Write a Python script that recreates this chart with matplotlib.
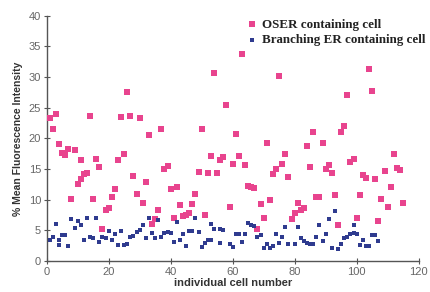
import matplotlib
matplotlib.use("Agg")
from matplotlib import pyplot as plt

# OSER containing cells (cell number, % mean fluorescence intensity)
oser_x = [1, 2, 3, 4, 5, 6, 7, 8, 9, 10, 11, 11, 12, 13, 14, 15, 16, 17, 18, 19,
          20, 21, 22, 23, 24, 25, 26, 27, 28, 29, 30, 31, 32, 33, 34, 35, 36, 37, 38, 39,
          40, 41, 42, 43, 44, 45, 46, 47, 48, 49, 50, 51, 52, 53, 54, 55, 56, 57, 58, 59,
          60, 61, 62, 63, 64, 65, 66, 67, 68, 69, 70, 71, 72, 73, 74, 75, 76, 77, 78, 79,
          80, 81, 82, 83, 84, 85, 86, 87, 88, 89, 90, 91, 92, 93, 94, 95, 96, 97, 98, 99,
          100, 101, 102, 103, 104, 105, 106, 107, 108, 109, 110, 111, 112, 113, 114, 115]
oser_y = [23.4, 21.6, 23.9, 19.1, 17.7, 17.3, 18.3, 10.2, 18.1, 12.6, 13.4, 16.5, 14.2, 14.3, 23.7, 10.1, 16.6, 15.4, 5.3, 8.3,
          8.6, 10.4, 11.7, 16.4, 23.5, 17.5, 27.5, 23.6, 13.8, 11.0, 23.3, 9.5, 12.9, 20.5, 6.0, 6.8, 8.3, 21.6, 15.0, 15.5,
          11.7, 7.0, 12.1, 9.1, 7.3, 7.5, 7.8, 9.3, 11.0, 14.5, 21.5, 7.5, 14.3, 17.1, 30.6, 14.3, 16.5, 17.0, 25.5, 8.8,
          15.9, 20.8, 17.1, 33.8, 15.7, 12.2, 12.0, 11.9, 5.2, 9.3, 7.1, 19.2, 9.9, 14.2, 15.0, 30.1, 15.8, 17.5, 13.7, 6.8,
          7.8, 9.4, 8.3, 8.6, 18.8, 15.3, 21.0, 10.5, 10.4, 19.3, 15.0, 15.7, 14.4, 10.7, 5.8, 21.1, 22.0, 27.1, 16.1, 16.6,
          7.1, 10.8, 14.0, 13.6, 31.3, 27.8, 13.3, 6.6, 10.1, 14.7, 8.8, 12.1, 17.5, 15.2, 14.9, 9.4]

# Branching ER containing cells
ber_x = [1, 2, 3, 4, 4, 5, 6, 7, 8, 9, 10, 11, 12, 13, 14, 15, 16, 17, 18, 19,
         20, 21, 22, 23, 24, 25, 26, 27, 28, 29, 30, 31, 32, 33, 34, 35, 36, 37, 38, 39,
         40, 41, 42, 43, 44, 45, 46, 47, 48, 49, 50, 51, 52, 53, 53, 54, 56, 56, 57, 59,
         60, 61, 62, 63, 64, 65, 66, 67, 68, 69, 70, 71, 72, 73, 74, 75, 76, 77, 78, 80,
         81, 82, 83, 84, 85, 86, 87, 88, 89, 90, 91, 92, 93, 94, 95, 96, 97, 98, 99, 99,
         100, 101, 102, 103, 104, 105, 106, 107]
ber_y = [3.5, 4.0, 6.1, 3.4, 2.6, 4.2, 4.2, 2.4, 6.9, 5.4, 6.6, 5.9, 3.4, 7.1, 4.0, 3.7, 7.1, 3.1, 4.0, 3.7,
         4.9, 3.4, 4.4, 2.6, 4.9, 2.6, 2.8, 3.9, 4.1, 4.8, 5.0, 5.9, 3.8, 7.0, 4.5, 3.8, 6.7, 3.9, 4.6, 4.8,
         4.5, 3.1, 6.4, 3.4, 4.4, 2.5, 4.9, 4.9, 7.0, 4.8, 2.3, 2.9, 3.4, 3.5, 6.1, 5.3, 5.3, 2.9, 5.0, 2.8,
         2.3, 4.4, 4.4, 3.1, 4.4, 6.2, 5.9, 5.7, 4.0, 4.3, 2.2, 2.8, 2.2, 2.4, 4.4, 2.9, 4.0, 5.5, 2.7, 2.7,
         5.5, 3.8, 3.3, 2.9, 2.8, 2.8, 4.0, 5.8, 3.3, 4.4, 6.8, 2.2, 8.2, 2.0, 2.7, 3.8, 4.0, 4.4, 4.5, 5.8,
         4.4, 2.6, 3.5, 2.4, 2.4, 4.3, 4.3, 3.3]

x_ticks = [0, 20, 40, 60, 80, 100, 120]
y_ticks = [0, 5, 10, 15, 20, 25, 30, 35, 40]

fig = plt.figure(figsize=(4.3, 2.92), dpi=100)
ax = fig.add_axes([0.1086, 0.106, 0.865, 0.84])

ax.scatter(oser_x, oser_y, marker="s", s=23, color="#e8448e", linewidths=0,
           label="OSER containing cell", zorder=3)
ax.scatter(ber_x, ber_y, marker="s", s=12, color="#2f3b8f", linewidths=0,
           label="Branching ER containing cell", zorder=3)

ax.set_xlim(0, 120)
ax.set_ylim(0, 40)
ax.set_xticks(x_ticks)
ax.set_yticks(y_ticks)

for side in ("top", "right"):
    ax.spines[side].set_visible(False)
for side in ("left", "bottom"):
    ax.spines[side].set_color("#555555")
    ax.spines[side].set_linewidth(1.0)

ax.tick_params(direction="inout", length=4, width=0.8, colors="#555555",
               labelsize=8, labelcolor="#666666", pad=2)
for lab in ax.get_xticklabels() + ax.get_yticklabels():
    lab.set_family("Liberation Sans")

ax.set_xlabel("individual cell number", fontsize=8, fontweight="bold",
              family="Liberation Sans", color="#333333", labelpad=1)
ax.set_ylabel("% Mean Fluorescence Intensity", fontsize=7.5, fontweight="bold",
              family="Liberation Sans", color="#333333", labelpad=4)

# legend placed in figure coords, no frame
leg = fig.legend(loc="upper left", bbox_to_anchor=(248 / 430, 1 - 18.5 / 292),
                 frameon=False, borderpad=0, borderaxespad=0,
                 prop={"family": "Liberation Serif", "weight": "bold", "size": 9.4},
                 handlelength=0.6, handletextpad=0.45, labelspacing=0.25,
                 scatterpoints=1)
for t in leg.get_texts():
    t.set_color("#222222")

fig.savefig("out.png", dpi=100)
